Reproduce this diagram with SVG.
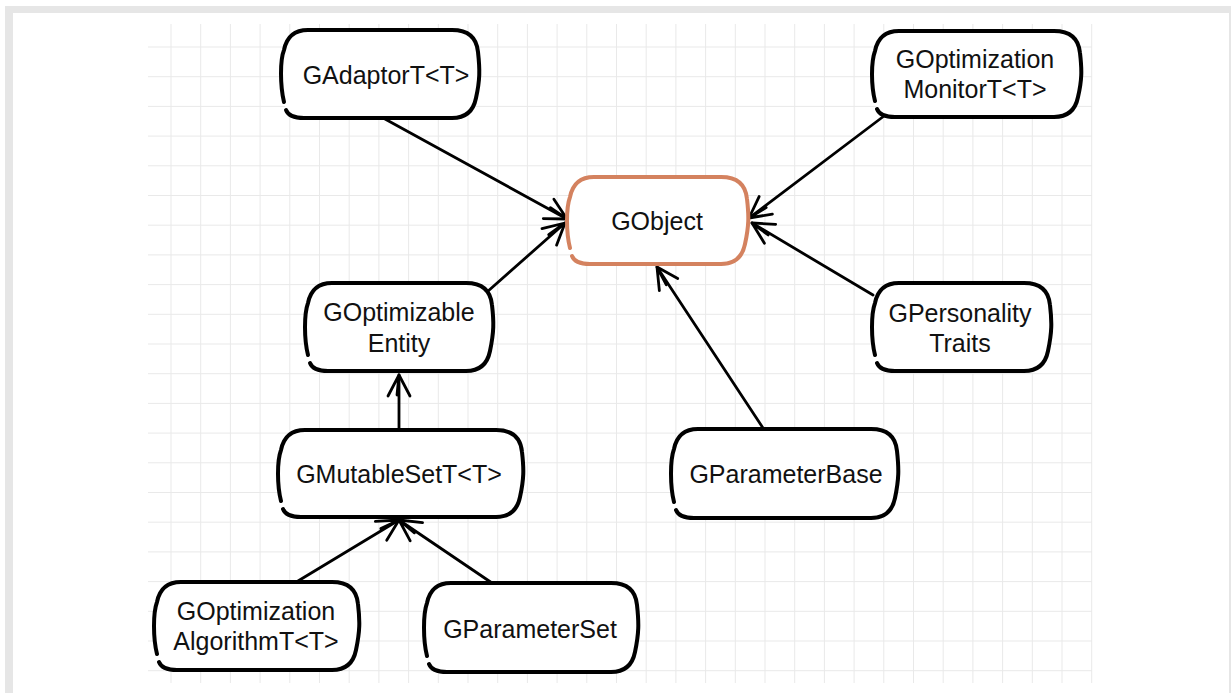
<svg xmlns="http://www.w3.org/2000/svg" width="1231" height="693" viewBox="0 0 1231 693">
  <defs>
    <style>
      .node { fill: #ffffff; stroke: #000000; stroke-width: 4; stroke-linecap: round; stroke-linejoin: round; }
      .root { stroke: #d4825f; }
      .lbl { font-family: "Liberation Sans", Arial, Helvetica, sans-serif; font-size: 25px; fill: #111111; text-anchor: middle; }
      .edge { fill: none; stroke: #000000; stroke-width: 2.8; stroke-linecap: round; marker-end: url(#arrow); }
      .grid { fill: none; stroke: #e9e9e9; stroke-width: 1; }
    </style>
    <marker id="arrow" markerUnits="userSpaceOnUse" markerWidth="40" markerHeight="40" viewBox="-30 -20 40 40" refX="0" refY="0" orient="auto">
      <path d="M-21,-11 L0,0 L-21,11 M-20,-2 L0,0" fill="none" stroke="#000000" stroke-width="2.8" stroke-linecap="round" stroke-linejoin="round"/>
    </marker>
  </defs>

  <rect x="0" y="0" width="1231" height="693" fill="#ffffff"/>
  <rect x="5" y="6" width="1226" height="687" fill="#e6e6e6"/>
  <rect x="13" y="13" width="1216" height="680" fill="#ffffff"/>

  <path class="grid" d="M171,24V683 M200.7,24V683 M230.4,24V683 M260.1,24V683 M289.8,24V683 M319.5,24V683 M349.2,24V683 M378.9,24V683 M408.6,24V683 M438.3,24V683 M468,24V683 M497.7,24V683 M527.4,24V683 M557.1,24V683 M586.8,24V683 M616.5,24V683 M646.2,24V683 M675.9,24V683 M705.6,24V683 M735.3,24V683 M765,24V683 M794.7,24V683 M824.4,24V683 M854.1,24V683 M883.8,24V683 M913.5,24V683 M943.2,24V683 M972.9,24V683 M1002.6,24V683 M1032.3,24V683 M1062,24V683 M1091.7,24V683 M148,47H1092 M148,76.7H1092 M148,106.4H1092 M148,136.1H1092 M148,165.8H1092 M148,195.5H1092 M148,225.2H1092 M148,254.9H1092 M148,284.6H1092 M148,314.3H1092 M148,344H1092 M148,373.7H1092 M148,403.4H1092 M148,433.1H1092 M148,462.8H1092 M148,492.5H1092 M148,522.2H1092 M148,551.9H1092 M148,581.6H1092 M148,611.3H1092 M148,641H1092 M148,670.7H1092"/>

  <g id="connectors">
    <path class="edge" d="M385,119 L567,219"/>
    <path class="edge" d="M884,116 L749,218"/>
    <path class="edge" d="M873,295 L752,223"/>
    <path class="edge" d="M763,428 L657,267"/>
    <path class="edge" d="M487,292 L565,223"/>
    <path class="edge" d="M399,430 L399,375"/>
    <path class="edge" d="M298,581 L399,520"/>
    <path class="edge" d="M492,583 L399,520"/>
  </g>

  <g id="GAdaptorT">
    <path class="node" d="M284,102 C280,85 280,60 284,50 Q288,30 308,30 L452,30 Q476,30 478,52 C480,70 480,80 476,98 Q472,118 452,118 L304,118 Q289,118 286,110"/>
    <text class="lbl" x="386" y="84">GAdaptorT&lt;T&gt;</text>
  </g>

  <g id="GOptimizationMonitorT">
    <path class="node" d="M875,101 C871,85 871,62 875,51 Q879,31 899,31 L1054,31 Q1078,31 1080,53 C1082,70 1082,80 1078,97 Q1074,117 1054,117 L895,117 Q880,117 877,109"/>
    <text class="lbl" x="975" y="68">GOptimization</text>
    <text class="lbl" x="975" y="98">MonitorT&lt;T&gt;</text>
  </g>

  <g id="GObject">
    <path class="node root" d="M570,248 C566,232 566,208 570,197 Q574,177 594,177 L721,177 Q745,177 747,199 C749,216 749,226 745,244 Q741,264 721,264 L590,264 Q575,264 572,256"/>
    <text class="lbl" x="657" y="230">GObject</text>
  </g>

  <g id="GOptimizableEntity">
    <path class="node" d="M308,355 C304,339 304,314 308,303 Q312,283 332,283 L466,283 Q490,283 492,305 C494,322 494,332 490,351 Q486,371 466,371 L328,371 Q313,371 310,363"/>
    <text class="lbl" x="399" y="321">GOptimizable</text>
    <text class="lbl" x="399" y="352">Entity</text>
  </g>

  <g id="GPersonalityTraits">
    <path class="node" d="M875,355 C871,339 871,314 875,303 Q879,283 899,283 L1024,283 Q1048,283 1050,305 C1052,322 1052,332 1048,351 Q1044,371 1024,371 L895,371 Q880,371 877,363"/>
    <text class="lbl" x="960" y="322">GPersonality</text>
    <text class="lbl" x="960" y="352">Traits</text>
  </g>

  <g id="GMutableSetT">
    <path class="node" d="M281,501 C277,485 277,461 281,450 Q285,430 305,430 L496,430 Q520,430 522,452 C524,469 524,479 520,497 Q516,517 496,517 L301,517 Q286,517 283,509"/>
    <text class="lbl" x="399" y="483">GMutableSetT&lt;T&gt;</text>
  </g>

  <g id="GParameterBase">
    <path class="node" d="M674,502 C670,486 670,460 674,449 Q678,429 698,429 L871,429 Q895,429 897,451 C899,469 899,479 895,498 Q891,518 871,518 L694,518 Q679,518 676,510"/>
    <text class="lbl" x="786" y="483">GParameterBase</text>
  </g>

  <g id="GOptimizationAlgorithmT">
    <path class="node" d="M157,654 C153,638 153,613 157,602 Q161,582 181,582 L332,582 Q356,582 358,604 C360,621 360,631 356,650 Q352,670 332,670 L177,670 Q162,670 159,662"/>
    <text class="lbl" x="256" y="620">GOptimization</text>
    <text class="lbl" x="256" y="650">AlgorithmT&lt;T&gt;</text>
  </g>

  <g id="GParameterSet">
    <path class="node" d="M427,656 C423,640 423,614 427,603 Q431,583 451,583 L611,583 Q635,583 637,605 C639,623 639,633 635,652 Q631,672 611,672 L447,672 Q432,672 429,664"/>
    <text class="lbl" x="530" y="638">GParameterSet</text>
  </g>
</svg>
